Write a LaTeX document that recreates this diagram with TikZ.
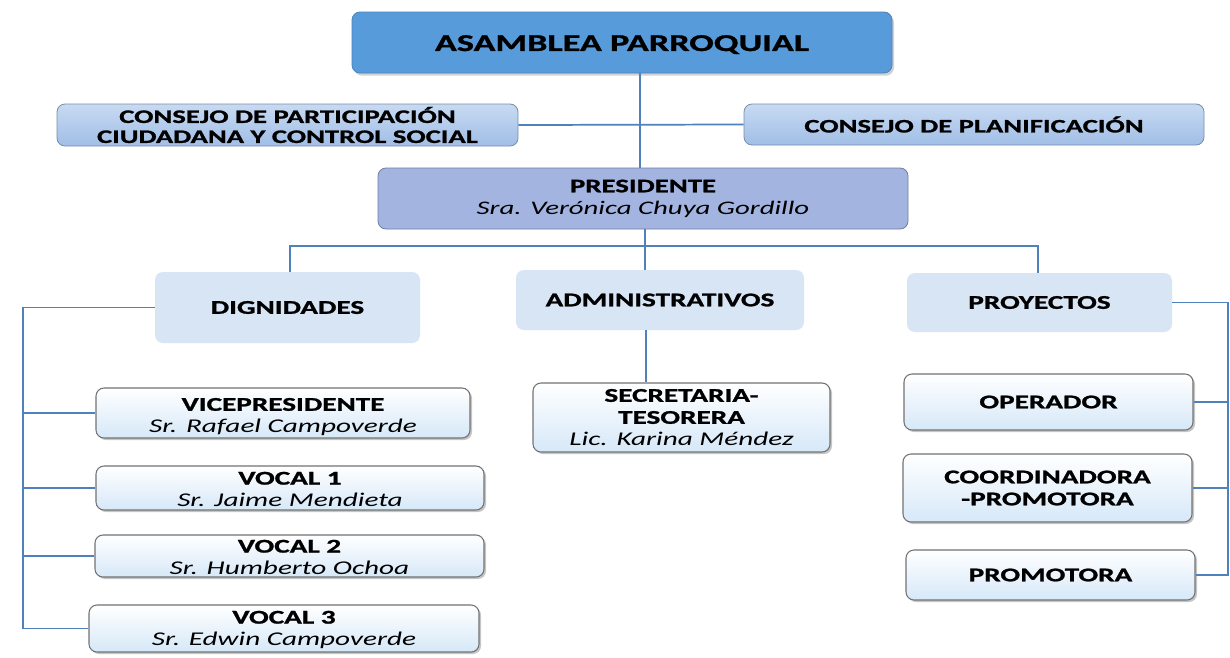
\documentclass[tikz,border=0pt]{standalone}
\usepackage{fontspec}
\setmainfont[FakeStretch=1.5,BoldFeatures={FakeBold=1.2}]{Carlito}
\usetikzlibrary{shadows}
\definecolor{linec}{RGB}{79,129,189}
\definecolor{asam}{RGB}{88,155,218}
\definecolor{cons1}{RGB}{200,218,242}
\definecolor{cons2}{RGB}{160,190,230}
\definecolor{pres}{RGB}{163,180,224}
\definecolor{grp}{RGB}{216,229,245}
\definecolor{leaf}{RGB}{214,232,248}
\begin{document}
\begin{tikzpicture}[x=0.75pt,y=-0.75pt,
  conn/.style={draw=linec,line width=1.3pt},
  base/.style={rounded corners=6pt,align=center,inner sep=0pt,font=\bfseries},
  asambox/.style={base,fill=asam,draw=asam!85!black,line width=0.6pt,drop shadow={opacity=0.35,shadow xshift=1.5pt,shadow yshift=-2pt},font=\fontsize{18.1}{20}\selectfont\bfseries},
  consbox/.style={base,top color=cons1,bottom color=cons2,draw=cons2!75!black,line width=0.6pt,font=\fontsize{14.3}{15}\selectfont\bfseries},
  presbox/.style={base,fill=pres,draw=pres!70!black,line width=0.6pt,font=\fontsize{14.4}{16.5}\selectfont\bfseries},
  grpbox/.style={base,fill=grp,draw=none,font=\fontsize{14.6}{16}\selectfont\bfseries},
  leafbox/.style={base,top color=white,bottom color=leaf,draw=black!55,line width=0.8pt,drop shadow={opacity=0.45,shadow xshift=1.5pt,shadow yshift=-1.5pt},font=\fontsize{14.6}{16.5}\selectfont\bfseries}
]
\useasboundingbox (0,0) rectangle (1230,657);
\fill[white] (0,0) rectangle (1230,657);

% helper coordinates for connector positions
\coordinate (lbus) at (23,307);
\coordinate (rbus) at (1228,300);
\coordinate (hbus) at (645,246);
\coordinate (tA) at (640,73);

% nodes
\node[asambox,minimum width=405pt,minimum height=45.75pt] (asam) at (622,42.5) {\rule{0pt}{15pt}ASAMBLEA PARROQUIAL};
\node[consbox,minimum width=345.75pt,minimum height=31.5pt] (cpc) at (287.5,125) {CONSEJO DE PARTICIPACIÓN\\CIUDADANA Y CONTROL SOCIAL};
\node[consbox,minimum width=345pt,minimum height=30.75pt] (cpl) at (974,124.5) {CONSEJO DE PLANIFICACIÓN};
\node[presbox,minimum width=397.5pt,minimum height=45.75pt] (pres) at (643,198.5) {PRESIDENTE\\{\mdseries\itshape Sra. Verónica Chuya Gordillo}};

\node[grpbox,minimum width=198.75pt,minimum height=53.25pt] (dig) at (287.5,307.5) {DIGNIDADES};
\node[grpbox,minimum width=216pt,minimum height=45pt] (adm) at (660,300) {ADMINISTRATIVOS};
\node[grpbox,minimum width=198.75pt,minimum height=44.25pt] (proy) at (1039.5,302.5) {PROYECTOS};

\node[leafbox,minimum width=280.5pt,minimum height=37.5pt] (vice) at (283,413) {\rule{0pt}{15.5pt}VICEPRESIDENTE\\{\mdseries\itshape Sr. Rafael Campoverde}};
\node[leafbox,minimum width=291pt,minimum height=33pt] (v1) at (290,488) {\rule{0pt}{11.5pt}VOCAL 1\\{\mdseries\itshape Sr. Jaime Mendieta}};
\node[leafbox,minimum width=291.75pt,minimum height=31.5pt] (v2) at (289.5,556) {\rule{0pt}{11.5pt}VOCAL 2\\{\mdseries\itshape Sr. Humberto Ochoa}};
\node[leafbox,minimum width=292.5pt,minimum height=35.25pt] (v3) at (284,628.5) {\rule{0pt}{11.5pt}VOCAL 3\\{\mdseries\itshape Sr. Edwin Campoverde}};

\node[leafbox,minimum width=222.75pt,minimum height=51.75pt] (sec) at (681.5,417.5) {SECRETARIA-\\TESORERA\\{\mdseries\itshape Lic. Karina Méndez}};

\node[leafbox,minimum width=216.75pt,minimum height=42pt] (oper) at (1048.5,402) {OPERADOR};
\node[leafbox,minimum width=216.75pt,minimum height=51pt] (coord) at (1047.5,488) {COORDINADORA\\-PROMOTORA};
\node[leafbox,minimum width=216.75pt,minimum height=37.5pt] (prom) at (1050.5,575) {PROMOTORA};

% connectors
\draw[conn] (asam.south -| tA) -- (pres.north -| tA);
\draw[conn] (cpc.east) -- (cpl.west);
\draw[conn] (pres.south -| hbus) -- (hbus);
\draw[conn] (dig.north -| 290,0) |- (hbus) -| (proy.north -| 1038,0);
\draw[conn] (hbus) -- (adm.north -| hbus);
\draw[conn] (adm.south -| 646,0) -- (sec.north -| 646,0);
\draw[conn] (dig.west) -- (dig.west -| lbus) |- (v3.west);
\draw[conn] (lbus |- vice.west) -- (vice.west);
\draw[conn] (lbus |- v1.west) -- (v1.west);
\draw[conn] (lbus |- v2.west) -- (v2.west);
\draw[conn] (proy.east) -- (proy.east -| rbus) |- (prom.east);
\draw[conn] (rbus |- oper.east) -- (oper.east);
\draw[conn] (rbus |- coord.east) -- (coord.east);
\end{tikzpicture}
\end{document}
